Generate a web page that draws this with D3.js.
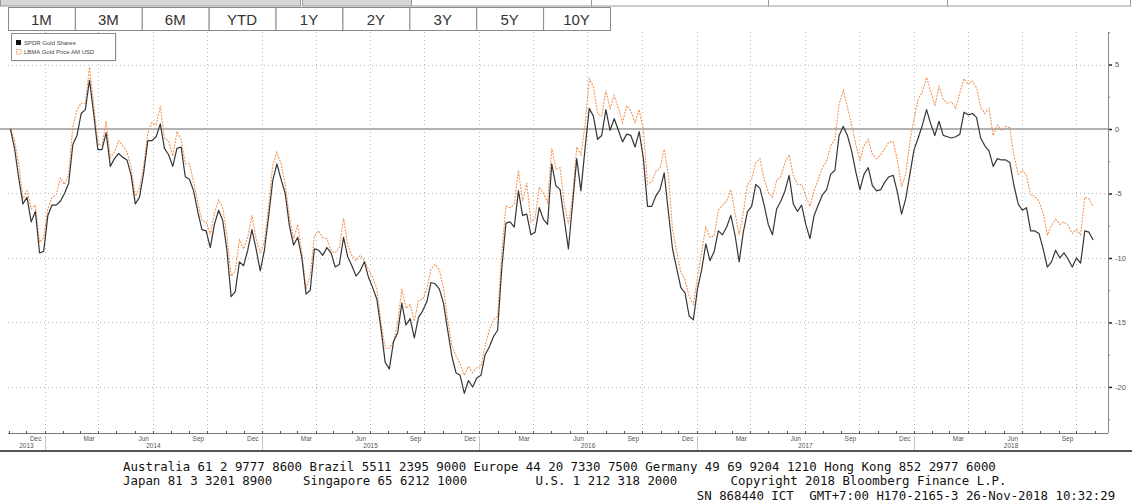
<!DOCTYPE html>
<html>
<head>
<meta charset="utf-8">
<script src="https://cdn.jsdelivr.net/npm/d3@7"></script>
<style>
  body { margin: 0; background: #fff; }
  svg { display: block; }
</style>
</head>
<body>
<div id="chart"></div>
<script>
// range buttons on top of the chart
var ranges = ["1M", "3M", "6M", "YTD", "1Y", "2Y", "3Y", "5Y", "10Y"];
var seriesNames = ["SPDR Gold Shares", "LBMA Gold Price AM USD"];

// weekly closes (Mondays), % change since first week
var firstWeek = "2013-11-04";
var lastWeek = "2018-10-29";

var spdr = [
  0, -1.5, -3.8, -5.8, -5.3, -7.2, -6.4, -9.6, -9.5, -6.7,
  -5.9, -5.9, -5.6, -5.0, -4.2, -1.2, -0.5, 1.2, 1.5, 3.8,
  1.2, -1.6, -1.6, -0.3, -2.9, -2.3, -1.9, -2.2, -2.4, -3.6,
  -5.8, -5.3, -3.4, -0.9, -0.9, -0.6, 0.4, -1.5, -2.0, -2.9,
  -1.5, -1.4, -3.7, -3.9, -4.8, -6.4, -7.8, -7.9, -9.2, -7.4,
  -6.3, -7.1, -9.4, -13.0, -12.6, -10.3, -10.6, -9.4, -7.8, -9.3,
  -11.0, -9.4, -6.8, -4.0, -2.7, -3.9, -5.0, -7.5, -9.0, -8.4,
  -10.0, -12.8, -12.5, -9.3, -9.4, -9.8, -9.2, -9.6, -10.7, -10.5,
  -8.4, -9.9, -10.6, -11.4, -11.0, -10.3, -11.5, -12.3, -13.2, -15.5,
  -18.1, -18.6, -16.5, -15.8, -13.5, -15.2, -14.7, -16.2, -14.6, -14.1,
  -13.4, -11.9, -12.0, -12.4, -13.5, -15.6, -17.6, -18.9, -19.1, -20.5,
  -19.5, -20.0, -19.3, -19.1, -17.5, -16.9, -16.1, -15.6, -10.8, -7.3,
  -7.2, -7.6, -4.8, -6.7, -6.6, -8.2, -8.0, -6.1, -7.0, -7.4,
  -2.7, -4.4, -4.7, -7.0, -9.3, -5.8, -2.3, -4.8, -1.5, 1.6,
  1.0, -0.8, -0.5, 1.5, -0.1, 0.8, -0.1, -1.0, -0.4, -0.5,
  -1.4, -0.2, -2.3, -6.0, -6.0, -5.2, -4.7, -3.4, -6.4, -9.3,
  -10.8, -12.3, -12.7, -14.5, -14.8, -12.4, -10.9, -8.9, -10.2, -9.5,
  -7.9, -8.2, -7.6, -6.7, -8.2, -10.3, -8.0, -6.4, -6.0, -4.3,
  -4.6, -5.9, -7.4, -8.2, -6.2, -5.6, -4.8, -3.6, -5.8, -6.4,
  -5.9, -7.4, -8.5, -6.7, -5.9, -5.1, -4.7, -3.5, -3.2, -0.5,
  0.2, -0.5, -1.7, -3.3, -4.7, -3.5, -3.0, -4.4, -4.8, -4.7,
  -4.1, -3.7, -3.6, -4.9, -6.6, -5.4, -3.5, -1.6, -0.7, 0.3,
  1.5, 0.4, -0.5, 0.6, -0.5, -0.6, -0.7, -0.6, -0.4, 1.3,
  1.1, 1.2, 0.9, -0.7, -1.3, -1.7, -2.9, -2.3, -2.4, -2.4,
  -2.6, -4.4, -5.8, -6.3, -6.1, -7.9, -7.9, -8.1, -9.3, -10.7,
  -10.3, -9.4, -10.0, -9.6, -10.1, -10.7, -10.0, -10.4, -7.9, -8.0,
  -8.6
];

var lbma = [
  0.1, -0.9, -2.7, -5.4, -4.8, -6.2, -5.9, -8.8, -8.4, -6.2,
  -5.3, -5.1, -3.8, -4.3, -3.5, 0.2, 1.5, 2.0, 2.0, 4.8,
  1.9, -1.1, -1.3, 0.6, -2.2, -1.8, -0.9, -1.3, -1.8, -3.0,
  -5.2, -4.6, -2.9, -0.3, 0.5, 0.3, 1.8, -0.7, -0.9, -2.1,
  -0.2, -0.8, -2.7, -2.7, -4.1, -5.7, -7.1, -7.2, -8.2, -6.5,
  -5.5, -6.1, -8.3, -11.4, -11.0, -8.6, -9.3, -8.4, -6.7, -8.5,
  -9.6, -8.7, -6.0, -2.8, -1.8, -2.7, -4.3, -6.8, -8.5, -7.4,
  -9.6, -12.4, -11.3, -8.3, -7.9, -8.4, -8.5, -9.4, -9.6, -9.2,
  -6.9, -9.0, -9.8, -10.2, -9.8, -10.2, -10.9, -11.5, -12.4, -15.0,
  -17.0, -17.0, -16.5, -15.0, -12.4, -13.9, -13.6, -14.9, -13.3, -13.2,
  -12.4, -10.9, -10.5, -10.9, -12.3, -14.8, -16.8, -17.6, -18.2, -19.1,
  -18.4, -18.9, -18.5, -18.4, -16.8, -15.6, -14.8, -14.5, -9.5, -6.0,
  -6.1, -5.8, -3.2, -5.6, -4.2, -7.2, -6.9, -4.5, -5.0, -5.7,
  -1.5, -3.1, -3.0, -5.8, -7.4, -5.2, -1.4, -2.0, 0.3, 3.9,
  3.3, 1.2, 1.0, 3.0, 1.6, 2.6, 1.6, 0.5, 1.8, 1.4,
  0.5, 1.5, -0.1, -4.3, -4.1, -3.3, -3.0, -1.6, -3.5, -7.8,
  -9.5, -11.1, -11.7, -13.0, -13.6, -11.5, -9.5, -7.6, -8.4, -8.3,
  -6.3, -5.9, -5.6, -4.7, -6.5, -8.2, -6.5, -4.3, -3.9, -2.6,
  -2.3, -3.9, -4.9, -5.3, -4.0, -3.7, -2.6, -2.0, -3.6, -4.3,
  -4.3, -5.2, -6.0, -4.8, -3.9, -3.0, -2.5, -1.3, -0.8, 1.9,
  3.0, 1.7, 0.3, -1.2, -2.4, -1.3, -0.8, -2.0, -2.3, -2.0,
  -1.5, -1.0, -1.0, -2.4, -4.5, -3.5, -1.0, 0.8, 2.3, 2.9,
  4.0, 2.9, 1.8, 3.3, 2.3, 2.0, 2.1, 1.6, 2.8, 3.9,
  3.5, 3.7, 3.2, 1.7, 1.2, 1.6, -0.5, 0.3, -0.1, 0.2,
  0.1, -2.1, -3.5, -3.2, -3.6, -5.1, -5.2, -5.6, -6.5, -8.2,
  -7.5, -7.0, -7.4, -7.2, -7.5, -8.1, -7.8, -8.2, -5.3, -5.4,
  -6.0
];

var yTicks = [5, 0, -5, -10, -15, -20];
var yMinorTicks = [7.5, 2.5, -2.5, -7.5, -12.5, -17.5, -22.5];
var labelMonths = [11, 2, 5, 8];   // Dec, Mar, Jun, Sep
var gridMonths = [0, 3, 6, 9];     // quarter starts

var footerLines = [
  [["Australia 61 2 9777 8600 Brazil 5511 2395 9000 Europe 44 20 7330 7500 Germany 49 69 9204 1210 Hong Kong 852 2977 6000", 0]],
  [["Japan 81 3 3201 8900", 0], ["Singapore 65 6212 1000", 24], ["U.S. 1 212 318 2000", 55], ["Copyright 2018 Bloomberg Finance L.P.", 81]],
  [["SN 868440 ICT", 76.5], ["GMT+7:00 H170-2165-3 26-Nov-2018 10:32:29", 91.5]]
];

document.addEventListener('DOMContentLoaded', function () {
  drawChart();
});

function drawChart() {
  var width = 1132, height = 504;
  var left = 8, right = 1108, top = 32, bottom = 433;

  var svg = d3.select('#chart').append('svg')
    .attr('width', width)
    .attr('height', height);

  var parse = d3.timeParse('%Y-%m-%d');
  var weeks = d3.timeMonday.range(parse(firstWeek), d3.timeDay.offset(parse(lastWeek), 1));

  var x = d3.scaleTime()
    .domain([new Date(2013, 9, 31), new Date(2018, 10, 23)])
    .range([left, right]);
  var y = d3.scaleLinear()
    .domain([-23.57, 7.52])
    .range([bottom, top]);

  // ---- header strip and range buttons ----
  var strip = [[0, 300, '#d6d6d6'], [302, 411, '#d6d6d6'], [411, 591, '#fff'],
               [591, 768, '#fff'], [768, 947, '#fff'], [947, 1130, '#fff']];
  svg.selectAll('rect.strip').data(strip).enter().append('rect')
    .attr('x', function (d) { return d[0] + 0.5; })
    .attr('y', -10)
    .attr('width', function (d) { return d[1] - d[0]; })
    .attr('height', 16)
    .attr('fill', function (d) { return d[2]; })
    .attr('stroke', '#9a9a9a');

  var bw = (610 - 8) / ranges.length;
  var btn = svg.selectAll('g.btn').data(ranges).enter().append('g')
    .attr('transform', function (d, i) { return 'translate(' + (8 + i * bw) + ',7)'; });
  btn.append('rect')
    .attr('x', 0.5).attr('y', 0.5)
    .attr('width', bw).attr('height', 23)
    .attr('fill', '#fff')
    .attr('stroke', '#8a8a8a');
  btn.append('text')
    .attr('x', bw / 2).attr('y', 18)
    .attr('text-anchor', 'middle')
    .style('font-family', 'Liberation Sans, Arial, sans-serif')
    .style('font-size', '15px')
    .attr('fill', '#333')
    .text(function (d) { return d; });

  // ---- grid ----
  var months = d3.timeMonth.range(new Date(2013, 10, 1), new Date(2018, 10, 24));
  var quarterStarts = months.filter(function (m) { return gridMonths.indexOf(m.getMonth()) >= 0; });

  svg.selectAll('line.vgrid').data(quarterStarts).enter().append('line')
    .attr('x1', function (d) { return Math.round(x(d)) + 0.5; })
    .attr('x2', function (d) { return Math.round(x(d)) + 0.5; })
    .attr('y1', top).attr('y2', bottom)
    .attr('stroke', '#b8b8b8')
    .attr('stroke-dasharray', '1,3');

  svg.selectAll('line.hgrid').data(yTicks.filter(function (v) { return v !== 0; })).enter().append('line')
    .attr('x1', left).attr('x2', right)
    .attr('y1', function (d) { return Math.round(y(d)) + 0.5; })
    .attr('y2', function (d) { return Math.round(y(d)) + 0.5; })
    .attr('stroke', '#b8b8b8')
    .attr('stroke-dasharray', '1,3');

  svg.append('line')
    .attr('x1', 0).attr('x2', right)
    .attr('y1', y(0)).attr('y2', y(0))
    .attr('stroke', '#b2b2b2')
    .attr('stroke-width', 2.2);

  // ---- series ----
  svg.append('clipPath').attr('id', 'plot')
    .append('rect').attr('x', left).attr('y', top)
    .attr('width', right - left).attr('height', bottom - top);

  var line = d3.line()
    .x(function (d) { return x(d.date); })
    .y(function (d) { return y(d.value); });

  var lbmaData = weeks.map(function (w, i) { return { date: w, value: lbma[i] }; });
  var spdrData = weeks.map(function (w, i) { return { date: w, value: spdr[i] }; });

  svg.append('path')
    .datum(lbmaData)
    .attr('clip-path', 'url(#plot)')
    .attr('d', line)
    .attr('fill', 'none')
    .attr('stroke', '#f29556')
    .attr('stroke-width', 1.1)
    .attr('stroke-dasharray', '2,1.2');

  svg.append('path')
    .datum(spdrData)
    .attr('clip-path', 'url(#plot)')
    .attr('d', line)
    .attr('fill', 'none')
    .attr('stroke', '#363636')
    .attr('stroke-width', 1.2)
    .attr('stroke-linejoin', 'round');

  // ---- right axis ----
  var yAxis = svg.append('g')
    .attr('transform', 'translate(' + right + ',0)')
    .call(d3.axisRight(y).tickValues(yTicks).tickSize(4).tickPadding(3)
      .tickFormat(function (d) { return d; }));
  yAxis.select('.domain').remove();
  yAxis.selectAll('.tick line').attr('stroke', '#222').attr('stroke-width', 1.5);
  yAxis.selectAll('.tick text')
    .style('font-family', 'Liberation Sans, Arial, sans-serif')
    .style('font-size', '7.5px')
    .attr('fill', '#555');

  var yMinor = svg.append('g')
    .attr('transform', 'translate(' + right + ',0)')
    .call(d3.axisRight(y).tickValues(yMinorTicks).tickSize(2).tickFormat(''));
  yMinor.select('.domain').remove();
  yMinor.selectAll('.tick line').attr('stroke', '#777');

  svg.append('line')
    .attr('x1', right + 0.5).attr('x2', right + 0.5)
    .attr('y1', top).attr('y2', bottom)
    .attr('stroke', '#8a8a8a');

  // ---- bottom axis ----
  svg.append('line')
    .attr('x1', left).attr('x2', right)
    .attr('y1', bottom + 0.5).attr('y2', bottom + 0.5)
    .attr('stroke', '#7a7a7a');

  svg.selectAll('line.mtick').data(months).enter().append('line')
    .attr('x1', function (d) { return Math.round(x(d)) + 0.5; })
    .attr('x2', function (d) { return Math.round(x(d)) + 0.5; })
    .attr('y1', bottom - 2).attr('y2', bottom + 1)
    .attr('stroke', '#555');

  var labelled = months.filter(function (m) { return labelMonths.indexOf(m.getMonth()) >= 0; });
  var fmt = d3.timeFormat('%b');
  svg.selectAll('text.month').data(labelled).enter().append('text')
    .attr('x', function (d) { return (x(d) + x(d3.timeMonth.offset(d, 1))) / 2; })
    .attr('y', bottom + 8)
    .attr('text-anchor', 'middle')
    .style('font-family', 'Liberation Sans, Arial, sans-serif')
    .style('font-size', '6.5px')
    .attr('fill', '#555')
    .text(fmt);

  var yearStarts = d3.timeYear.range(new Date(2013, 0, 1), new Date(2019, 0, 1));
  var xd = x.domain();
  svg.selectAll('text.year').data(yearStarts).enter().append('text')
    .attr('x', function (d) {
      var a = d < xd[0] ? xd[0] : d;
      var e = d3.timeYear.offset(d, 1);
      var b = e > xd[1] ? xd[1] : e;
      return (x(a) + x(b)) / 2;
    })
    .attr('y', bottom + 15)
    .attr('text-anchor', 'middle')
    .style('font-family', 'Liberation Sans, Arial, sans-serif')
    .style('font-size', '6.5px')
    .attr('fill', '#555')
    .text(function (d) { return d.getFullYear(); });

  svg.selectAll('line.ysep').data(yearStarts.filter(function (d) { return d > xd[0]; })).enter().append('line')
    .attr('x1', function (d) { return Math.round(x(d)) + 0.5; })
    .attr('x2', function (d) { return Math.round(x(d)) + 0.5; })
    .attr('y1', bottom + 3).attr('y2', bottom + 18)
    .attr('stroke', '#c4c4c4');

  svg.append('line')
    .attr('x1', 0).attr('x2', width)
    .attr('y1', 451).attr('y2', 451)
    .attr('stroke', '#555')
    .attr('stroke-width', 2);

  // ---- legend ----
  var lg = svg.append('g').attr('transform', 'translate(11,33)');
  lg.append('rect').attr('x', 1.5).attr('y', 1.5).attr('width', 104).attr('height', 27)
    .attr('fill', '#ddd');
  lg.append('rect').attr('x', 0.5).attr('y', 0.5).attr('width', 104).attr('height', 27)
    .attr('fill', '#fff').attr('stroke', '#8c8c8c');
  lg.append('rect').attr('x', 5).attr('y', 7).attr('width', 5).attr('height', 5)
    .attr('fill', '#111');
  lg.append('rect').attr('x', 5.5).attr('y', 16.5).attr('width', 4.5).attr('height', 4.5)
    .attr('fill', '#fff').attr('stroke', '#f29556').attr('stroke-dasharray', '1.5,1');
  lg.selectAll('text').data(seriesNames).enter().append('text')
    .attr('x', 13)
    .attr('y', function (d, i) { return 12 + i * 9; })
    .style('font-family', 'Liberation Sans, Arial, sans-serif')
    .style('font-size', '6px')
    .attr('fill', '#444')
    .text(function (d) { return d; });

  // ---- footer ----
  var charW = 7.5;
  footerLines.forEach(function (segs, li) {
    svg.selectAll(null).data(segs).enter().append('text')
      .attr('x', function (d) { return 123 + d[1] * charW; })
      .attr('y', 471 + li * 14.3)
      .style('font-family', 'DejaVu Sans Mono, monospace')
      .style('font-size', '12.4px')
      .attr('fill', '#111')
      .text(function (d) { return d[0]; });
  });
}
</script>
</body>
</html>
